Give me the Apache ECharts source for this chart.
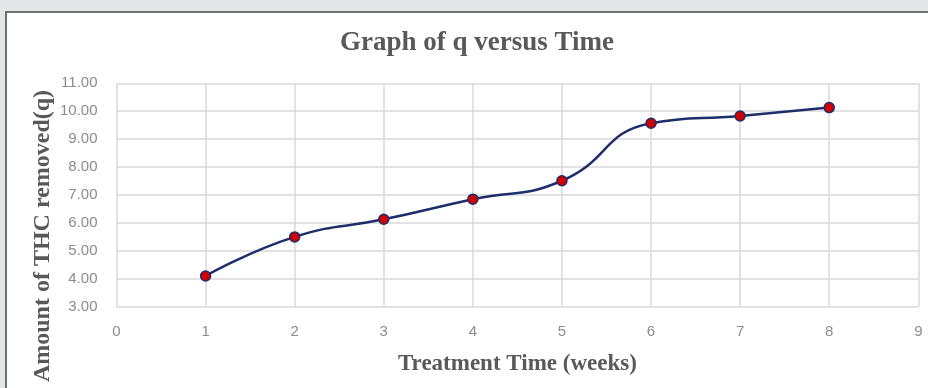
<!DOCTYPE html>
<html>
<head>
<meta charset="utf-8">
<script src="https://cdn.jsdelivr.net/npm/echarts@6/dist/echarts.min.js"></script>
<style>
  html, body { margin: 0; padding: 0; background: #e3e7e8; }
  #chart { width: 928px; height: 388px; }
</style>
</head>
<body>
<div id="chart"></div>
<script>
// Treatment time in weeks and amount of THC removed (q)
const weeks = [1, 2, 3, 4, 5, 6, 7, 8];
const qValues = [4.10, 5.50, 6.13, 6.85, 7.51, 9.57, 9.83, 10.13];
const xTicks = [0, 1, 2, 3, 4, 5, 6, 7, 8, 9];
const yTicks = [3, 4, 5, 6, 7, 8, 9, 10, 11];

const chart = echarts.init(document.getElementById('chart'), null, { renderer: 'canvas' });

const serif = '"Liberation Serif", "DejaVu Serif", serif';
const sans = '"Liberation Sans", Arial, sans-serif';
const gridColor = '#d9d9d9';
const labelColor = '#8c8c8c';

chart.setOption({
  backgroundColor: '#e3e7e8',
  animation: false,
  title: {
    text: 'Graph of q versus Time',
    left: 472,
    top: 25,
    textAlign: 'center',
    textStyle: { fontFamily: serif, fontWeight: 'bold', fontSize: 27, color: '#595959' }
  },
  graphic: [
    {
      type: 'rect',
      z: -10,
      shape: { x: 6, y: 12, width: 940, height: 400 },
      style: { fill: '#ffffff', stroke: '#707070', lineWidth: 2 }
    },
    {
      type: 'text',
      x: 43,
      y: 236,
      rotation: Math.PI / 2,
      style: {
        text: 'Amount of THC removed(q)',
        font: 'bold 24px ' + serif,
        fill: '#595959',
        textAlign: 'center',
        textVerticalAlign: 'middle'
      }
    }
  ],
  grid: { left: 116.5, right: 9.7, top: 83.3, bottom: 81.3 },
  xAxis: {
    type: 'value',
    min: xTicks[0],
    max: xTicks[xTicks.length - 1],
    interval: 1,
    name: 'Treatment Time (weeks)',
    nameLocation: 'middle',
    nameGap: 46,
    nameTextStyle: { fontFamily: serif, fontWeight: 'bold', fontSize: 23, color: '#595959' },
    axisLine: { show: false },
    axisTick: { show: false },
    axisLabel: { margin: 18, color: labelColor, fontFamily: sans, fontSize: 15 },
    splitLine: { show: true, lineStyle: { color: gridColor, width: 1.5 } }
  },
  yAxis: {
    type: 'value',
    min: yTicks[0],
    max: yTicks[yTicks.length - 1],
    interval: 1,
    axisLine: { show: false },
    axisTick: { show: false },
    axisLabel: {
      margin: 19,
      color: labelColor,
      fontFamily: sans,
      fontSize: 15,
      formatter: v => v.toFixed(2)
    },
    splitLine: { show: true, lineStyle: { color: gridColor, width: 1.5 } }
  },
  series: [{
    type: 'line',
    data: weeks.map((w, i) => [w, qValues[i]]),
    smooth: 0.5,
    symbol: 'circle',
    symbolSize: 10,
    lineStyle: { color: '#1f2d6b', width: 2.5 },
    itemStyle: { color: '#d10000', borderColor: '#1f2d6b', borderWidth: 1.5 }
  }]
});
</script>
</body>
</html>
